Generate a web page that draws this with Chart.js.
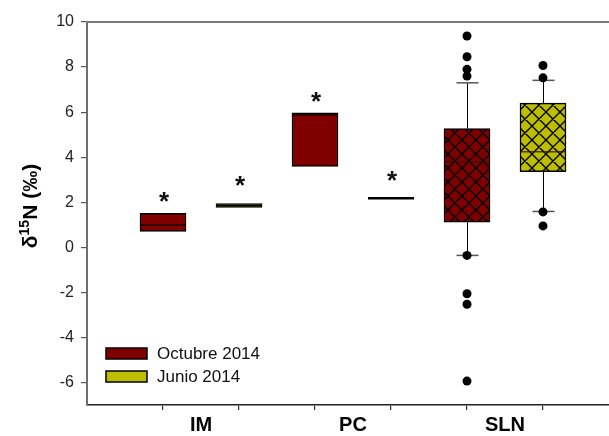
<!DOCTYPE html>
<html><head><meta charset="utf-8">
<script src="https://cdn.jsdelivr.net/npm/chart.js@4/dist/chart.umd.min.js"></script>
<style>html,body{margin:0;padding:0;background:#fff}canvas{display:block}</style>
</head><body>
<canvas id="c" width="609" height="436"></canvas>
<script>
// ---------- data ----------
const categories = ['IM', 'PC', 'SLN'];
const seriesNames = ['Octubre 2014', 'Junio 2014'];

const octQ1 = [0.71, 3.59, 1.11];
const octMedian = [0.98, 5.88, 3.79];
const octQ3 = [1.51, 5.97, 5.27];
const octWhiskerLow = [null, null, -0.36];
const octWhiskerHigh = [null, null, 7.30];
const octOutliers = [[], [], [9.38, 8.46, 7.90, 7.60, -0.36, -2.06, -2.53, -5.94]];

const junQ1 = [1.77, 2.18, 3.36];
const junMedian = [1.85, 2.18, 4.24];
const junQ3 = [1.94, 2.18, 6.40];
const junWhiskerLow = [null, null, 1.59];
const junWhiskerHigh = [null, null, 7.41];
const junOutliers = [[], [], [8.07, 7.52, 1.57, 0.95]];

const significance = [['*', '*'], ['*', '*'], ['', '']];

const yTickValues = [-6, -4, -2, 0, 2, 4, 6, 8, 10];
const yAxisTitle = { base: 'δ', sup: '15', rest: 'N (‰)' };

// ---------- styles ----------
const OCT_COLOR = '#800000';
const JUN_COLOR = '#bebe00';
const BOX_W = 46;
const CAP_W = 22;
const FONT = '"Liberation Sans", Arial, sans-serif';

function makeHatch(color) {
  const s = 14;
  const c = document.createElement('canvas');
  c.width = s; c.height = s;
  const g = c.getContext('2d');
  g.fillStyle = color; g.fillRect(0, 0, s, s);
  g.strokeStyle = '#000'; g.lineWidth = 1.4;
  g.beginPath();
  for (const k of [-s, 0, s]) {
    g.moveTo(k, 0); g.lineTo(k + s, s);
    g.moveTo(k + s, 0); g.lineTo(k, s);
  }
  g.stroke();
  return c.getContext('2d').createPattern(c, 'repeat');
}
const hatchOct = makeHatch(OCT_COLOR);
const hatchJun = makeHatch(JUN_COLOR);
const hatched = [false, false, true];

const series = [
  { q1: octQ1, med: octMedian, q3: octQ3, wl: octWhiskerLow, wh: octWhiskerHigh, out: octOutliers, color: OCT_COLOR, hatch: hatchOct, starGap: 16 },
  { q1: junQ1, med: junMedian, q3: junQ3, wl: junWhiskerLow, wh: junWhiskerHigh, out: junOutliers, color: JUN_COLOR, hatch: hatchJun, starGap: 22.5 }
];
const pos = (ci, si) => ci * 2 + si + 1;

const datasets = [];
series.forEach((s, si) => {
  datasets.push({
    type: 'bar',
    label: seriesNames[si],
    data: categories.map((c, ci) => ({ x: pos(ci, si), y: [s.q1[ci], s.q3[ci]] })),
    backgroundColor: categories.map((c, ci) => hatched[ci] ? s.hatch : s.color),
    borderColor: '#000',
    borderWidth: 1.5,
    borderSkipped: false,
    barThickness: BOX_W,
    grouped: false,
    order: 2
  });
});
series.forEach((s, si) => {
  const pts = [];
  categories.forEach((c, ci) => s.out[ci].forEach(v => pts.push({ x: pos(ci, si), y: v })));
  datasets.push({
    type: 'scatter',
    label: seriesNames[si] + ' outliers',
    data: pts,
    pointRadius: 4.5,
    pointBackgroundColor: '#000',
    pointBorderWidth: 0,
    order: 1
  });
});

const extras = {
  id: 'boxExtras',
  beforeDatasetsDraw(chart) {
    const ctx = chart.ctx, xs = chart.scales.x, ys = chart.scales.y;
    ctx.save();
    series.forEach((s, si) => categories.forEach((c, ci) => {
      const x = Math.round(xs.getPixelForValue(pos(ci, si))) + 0.5;
      const segs = [[s.q3[ci], s.wh[ci]], [s.q1[ci], s.wl[ci]]];
      segs.forEach(([from, to]) => {
        if (to === null) return;
        const y1 = ys.getPixelForValue(from), y2 = ys.getPixelForValue(to);
        ctx.strokeStyle = '#000'; ctx.lineWidth = 1;
        ctx.beginPath(); ctx.moveTo(x, y1); ctx.lineTo(x, y2); ctx.stroke();
        ctx.strokeStyle = '#555'; ctx.lineWidth = 1.5;
        ctx.beginPath(); ctx.moveTo(x - CAP_W / 2, y2); ctx.lineTo(x + CAP_W / 2, y2); ctx.stroke();
      });
    }));
    ctx.restore();
  },
  afterDatasetsDraw(chart) {
    const ctx = chart.ctx, xs = chart.scales.x, ys = chart.scales.y;
    ctx.save();
    series.forEach((s, si) => categories.forEach((c, ci) => {
      const x = xs.getPixelForValue(pos(ci, si));
      const ym = ys.getPixelForValue(s.med[ci]);
      const flat = s.q1[ci] === s.q3[ci];
      ctx.strokeStyle = flat ? '#000' : (hatched[ci] ? 'rgba(40,20,0,0.75)' : '#000');
      ctx.lineWidth = flat ? 2.5 : 1.3;
      ctx.beginPath(); ctx.moveTo(x - BOX_W / 2, ym); ctx.lineTo(x + BOX_W / 2, ym); ctx.stroke();
      const mark = significance[ci][si];
      if (mark) {
        ctx.font = 'bold 26px ' + FONT;
        ctx.fillStyle = '#111';
        ctx.textAlign = 'center';
        ctx.textBaseline = 'alphabetic';
        const m = ctx.measureText(mark);
        const cy = ys.getPixelForValue(s.q3[ci]) - s.starGap;
        const base = cy + (m.actualBoundingBoxAscent - m.actualBoundingBoxDescent) / 2;
        ctx.fillText(mark, x + 1, base);
      }
    }));
    ctx.restore();
  },
  afterDraw(chart) {
    const ctx = chart.ctx, a = chart.chartArea;
    ctx.save();
    // top frame line
    ctx.strokeStyle = '#7a7a7a'; ctx.lineWidth = 2;
    ctx.beginPath(); ctx.moveTo(a.left - 1, a.top); ctx.lineTo(chart.width, a.top); ctx.stroke();
    // legend
    const items = [[seriesNames[0], OCT_COLOR, 348], [seriesNames[1], JUN_COLOR, 371]];
    items.forEach(([label, col, y]) => {
      ctx.fillStyle = col; ctx.fillRect(106, y, 41, 11);
      ctx.strokeStyle = '#000'; ctx.lineWidth = 1.5; ctx.strokeRect(106, y, 41, 11);
      ctx.fillStyle = '#111'; ctx.font = '17px ' + FONT;
      ctx.textAlign = 'left'; ctx.textBaseline = 'middle';
      ctx.fillText(label, 157, y + 6.5);
    });
    // y-axis title with superscript
    ctx.translate(37, 206);
    ctx.rotate(-Math.PI / 2);
    ctx.fillStyle = '#000';
    ctx.textBaseline = 'alphabetic'; ctx.textAlign = 'left';
    const big = 'bold 21px ' + FONT, small = 'bold 14px ' + FONT;
    ctx.font = big; const w1 = ctx.measureText(yAxisTitle.base).width;
    const w3 = ctx.measureText(yAxisTitle.rest).width;
    ctx.font = small; const w2 = ctx.measureText(yAxisTitle.sup).width;
    let x = -(w1 + w2 + w3) / 2;
    ctx.font = big; ctx.fillText(yAxisTitle.base, x, 0); x += w1;
    ctx.font = small; ctx.fillText(yAxisTitle.sup, x, -8); x += w2;
    ctx.font = big; ctx.fillText(yAxisTitle.rest, x, 0);
    ctx.restore();
  }
};

new Chart(document.getElementById('c'), {
  type: 'bar',
  data: { datasets },
  options: {
    responsive: false,
    animation: false,
    devicePixelRatio: 1,
    layout: { autoPadding: false, padding: { top: 22, left: 0, right: 0, bottom: 0 } },
    plugins: { legend: { display: false }, tooltip: { enabled: false } },
    scales: {
      x: {
        type: 'linear',
        offset: false,
        min: 0,
        max: 522 / 76,
        afterFit(scale) { scale.height = 31; scale.paddingLeft = 0; scale.paddingRight = 0; },
        afterBuildTicks(scale) {
          const t = [];
          categories.forEach((c, ci) => { t.push(pos(ci, 0)); t.push(pos(ci, 0) + 0.5); t.push(pos(ci, 1)); });
          scale.ticks = t.map(v => ({ value: v }));
        },
        border: { color: '#222', width: 1.5 },
        grid: {
          offset: false,
          drawOnChartArea: false, drawTicks: true, tickLength: 5, lineWidth: 1.2,
          tickColor: ctx => (ctx.tick && Number.isInteger(ctx.tick.value)) ? '#333' : 'rgba(0,0,0,0)'
        },
        ticks: {
          autoSkip: false, maxRotation: 0, padding: 3,
          color: '#000',
          font: { family: FONT, size: 20, weight: 'bold' },
          callback: v => Number.isInteger(v) ? '' : categories[Math.floor((v - 1) / 2)]
        }
      },
      y: {
        min: -7, max: 10,
        afterFit(scale) { scale.width = 87; },
        afterBuildTicks(scale) { scale.ticks = yTickValues.map(v => ({ value: v })); },
        border: { color: '#6e6e6e', width: 2 },
        grid: { drawOnChartArea: false, drawTicks: true, tickLength: 6, tickColor: '#555', lineWidth: 1.2 },
        ticks: { padding: 7, color: '#222', font: { family: FONT, size: 16 } }
      }
    }
  },
  plugins: [extras]
});
</script>
</body></html>
